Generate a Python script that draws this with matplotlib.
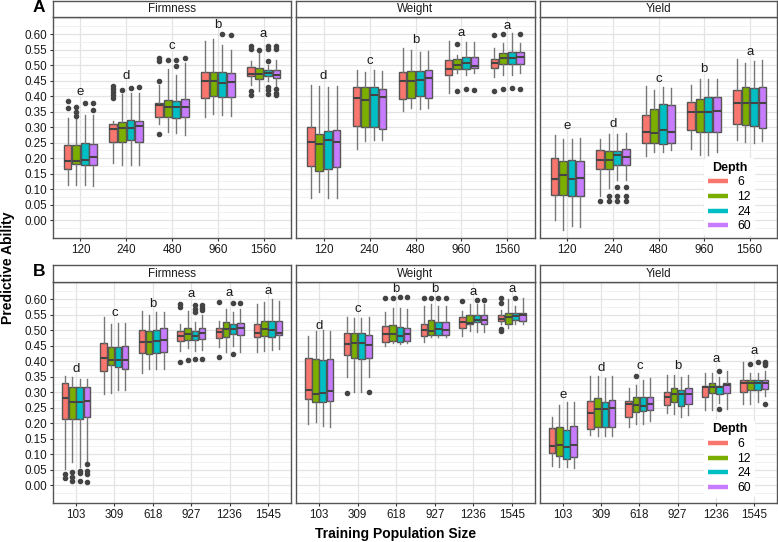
import matplotlib
matplotlib.use('Agg')
import matplotlib.pyplot as plt
from matplotlib.lines import Line2D
import numpy as np

plt.rcParams['font.family'] = ['Liberation Sans', 'DejaVu Sans']

# ---------------- data ----------------
depths = ['6', '12', '24', '60']
depth_colors = ['#F8766D', '#7CAE00', '#00BFC4', '#C77CFF']
traits = ['Firmness', 'Weight', 'Yield']
sizes_A = ['120', '240', '480', '960', '1560']
sizes_B = ['103', '309', '618', '927', '1236', '1545']

# box stats per size, per depth: (whisker low, q1, median, q3, whisker high)
A_firm_stats = [
    [(0.112, 0.164, 0.191, 0.243, 0.330), (0.112, 0.180, 0.191, 0.243, 0.325), (0.112, 0.178, 0.193, 0.250, 0.340), (0.110, 0.178, 0.202, 0.246, 0.340)],
    [(0.184, 0.253, 0.293, 0.309, 0.318), (0.179, 0.253, 0.298, 0.316, 0.406), (0.179, 0.257, 0.298, 0.322, 0.411), (0.176, 0.253, 0.302, 0.319, 0.411)],
    [(0.310, 0.331, 0.370, 0.377, 0.435), (0.285, 0.331, 0.366, 0.387, 0.487), (0.282, 0.328, 0.364, 0.384, 0.468), (0.275, 0.332, 0.366, 0.391, 0.505)],
    [(0.332, 0.395, 0.447, 0.476, 0.579), (0.343, 0.401, 0.450, 0.476, 0.583), (0.340, 0.398, 0.442, 0.476, 0.565), (0.334, 0.398, 0.444, 0.474, 0.550)],
    [(0.437, 0.466, 0.472, 0.495, 0.514), (0.415, 0.455, 0.472, 0.492, 0.539), (0.448, 0.466, 0.474, 0.484, 0.501), (0.431, 0.458, 0.468, 0.484, 0.517)],
]
A_firm_out = [
    [[0.361, 0.383], [0.334, 0.348, 0.364], [0.376], [0.354, 0.376]],
    [[0.393, 0.404, 0.413, 0.422, 0.432], [0.419], [0.426], [0.428]],
    [[0.279, 0.450, 0.512, 0.522], [0.516], [0.498, 0.516], [0.522]],
    [[], [], [0.599], [0.598]],
    [[0.402, 0.415, 0.552, 0.560], [0.549], [0.406, 0.418, 0.429, 0.514, 0.553, 0.563], [0.402, 0.410, 0.423, 0.553, 0.563]],
]
A_firm_letters = ['e', 'd', 'c', 'b', 'a']
A_firm_letter_y = [0.413, 0.465, 0.563, 0.628, 0.600]

A_wt_stats = [
    [(0.072, 0.174, 0.251, 0.300, 0.436), (0.089, 0.159, 0.246, 0.276, 0.433), (0.070, 0.165, 0.257, 0.287, 0.430), (0.070, 0.172, 0.252, 0.290, 0.433)],
    [(0.229, 0.302, 0.394, 0.428, 0.483), (0.254, 0.300, 0.388, 0.428, 0.477), (0.259, 0.299, 0.402, 0.428, 0.483), (0.259, 0.294, 0.396, 0.424, 0.482)],
    [(0.353, 0.389, 0.449, 0.479, 0.554), (0.361, 0.393, 0.449, 0.482, 0.548), (0.358, 0.399, 0.452, 0.480, 0.541), (0.361, 0.395, 0.457, 0.484, 0.546)],
    [(0.411, 0.468, 0.486, 0.515, 0.576), (0.474, 0.487, 0.501, 0.519, 0.533), (0.469, 0.487, 0.506, 0.525, 0.573), (0.474, 0.490, 0.498, 0.525, 0.573)],
    [(0.463, 0.492, 0.508, 0.519, 0.555), (0.469, 0.502, 0.522, 0.538, 0.571), (0.469, 0.503, 0.522, 0.542, 0.603), (0.474, 0.504, 0.525, 0.541, 0.571)],
]
A_wt_out = [
    [[], [], [], []],
    [[], [], [], []],
    [[], [], [], []],
    [[], [0.415, 0.569], [0.423], [0.420]],
    [[0.417, 0.598], [0.423, 0.601], [0.426], [0.423, 0.601]],
]
A_wt_letters = ['d', 'c', 'b', 'a', 'a']
A_wt_letter_y = [0.465, 0.512, 0.581, 0.602, 0.627]

A_yld_stats = [
    [(0.001, 0.082, 0.133, 0.200, 0.275), (-0.031, 0.082, 0.144, 0.191, 0.261), (-0.020, 0.076, 0.132, 0.193, 0.261), (-0.023, 0.079, 0.135, 0.191, 0.266)],
    [(0.078, 0.164, 0.193, 0.225, 0.262), (0.103, 0.164, 0.193, 0.223, 0.277), (0.130, 0.178, 0.210, 0.223, 0.277), (0.130, 0.178, 0.203, 0.229, 0.280)],
    [(0.207, 0.250, 0.285, 0.339, 0.433), (0.218, 0.250, 0.282, 0.358, 0.420), (0.221, 0.246, 0.291, 0.374, 0.428), (0.226, 0.250, 0.285, 0.371, 0.425)],
    [(0.230, 0.291, 0.350, 0.382, 0.436), (0.210, 0.285, 0.350, 0.390, 0.454), (0.210, 0.283, 0.350, 0.396, 0.454), (0.221, 0.285, 0.353, 0.396, 0.454)],
    [(0.259, 0.310, 0.379, 0.420, 0.518), (0.253, 0.305, 0.379, 0.428, 0.506), (0.250, 0.304, 0.377, 0.427, 0.513), (0.255, 0.298, 0.379, 0.428, 0.516)],
]
A_yld_out = [
    [[], [], [], []],
    [[0.060], [0.061, 0.076], [0.061, 0.076, 0.106], [0.061, 0.076, 0.106]],
    [[], [], [], []],
    [[], [], [], []],
    [[], [], [], []],
]
A_yld_letters = ['e', 'd', 'c', 'b', 'a']
A_yld_letter_y = [0.302, 0.309, 0.455, 0.487, 0.543]

B_firm_stats = [
    [(0.052, 0.213, 0.280, 0.328, 0.353), (0.073, 0.213, 0.269, 0.315, 0.347), (0.057, 0.213, 0.269, 0.317, 0.342), (0.078, 0.218, 0.272, 0.317, 0.342)],
    [(0.294, 0.369, 0.409, 0.457, 0.541), (0.297, 0.387, 0.403, 0.446, 0.519), (0.306, 0.382, 0.404, 0.444, 0.523), (0.306, 0.374, 0.404, 0.449, 0.522)],
    [(0.363, 0.425, 0.463, 0.500, 0.562), (0.374, 0.423, 0.460, 0.496, 0.549), (0.374, 0.426, 0.466, 0.501, 0.557), (0.374, 0.428, 0.469, 0.506, 0.557)],
    [(0.433, 0.466, 0.482, 0.497, 0.519), (0.442, 0.469, 0.486, 0.505, 0.562), (0.431, 0.468, 0.480, 0.497, 0.525), (0.435, 0.470, 0.489, 0.506, 0.550)],
    [(0.444, 0.474, 0.495, 0.508, 0.530), (0.428, 0.476, 0.503, 0.525, 0.568), (0.449, 0.487, 0.503, 0.519, 0.557), (0.428, 0.485, 0.505, 0.523, 0.568)],
    [(0.428, 0.478, 0.492, 0.521, 0.584), (0.433, 0.482, 0.503, 0.530, 0.589), (0.435, 0.478, 0.500, 0.528, 0.600), (0.439, 0.485, 0.492, 0.530, 0.595)],
]
B_firm_out = [
    [[0.022, 0.035], [0.014, 0.025, 0.043], [0.012, 0.038, 0.046], [0.009, 0.035, 0.046, 0.068]],
    [[], [], [], []],
    [[], [], [], []],
    [[0.396, 0.573, 0.584], [0.403], [0.405, 0.557, 0.568, 0.581], [0.405, 0.565, 0.571, 0.581]],
    [[0.412, 0.589], [], [0.423, 0.587], [0.586]],
    [[], [], [], []],
]
B_firm_letters = ['d', 'c', 'b', 'a', 'a', 'a']
B_firm_letter_y = [0.374, 0.554, 0.584, 0.616, 0.619, 0.625]

B_wt_stats = [
    [(0.197, 0.277, 0.308, 0.410, 0.482), (0.202, 0.267, 0.294, 0.406, 0.498), (0.191, 0.267, 0.296, 0.404, 0.500), (0.188, 0.270, 0.302, 0.406, 0.498)],
    [(0.347, 0.420, 0.455, 0.489, 0.541), (0.299, 0.410, 0.457, 0.489, 0.539), (0.299, 0.406, 0.457, 0.489, 0.539), (0.349, 0.410, 0.452, 0.485, 0.541)],
    [(0.448, 0.461, 0.486, 0.513, 0.558), (0.458, 0.464, 0.486, 0.515, 0.572), (0.455, 0.461, 0.481, 0.510, 0.572), (0.458, 0.464, 0.486, 0.507, 0.569)],
    [(0.461, 0.481, 0.499, 0.518, 0.577), (0.476, 0.483, 0.497, 0.531, 0.583), (0.476, 0.483, 0.504, 0.526, 0.577), (0.476, 0.484, 0.500, 0.527, 0.578)],
    [(0.481, 0.505, 0.526, 0.542, 0.561), (0.497, 0.518, 0.524, 0.548, 0.583), (0.495, 0.526, 0.532, 0.548, 0.583), (0.495, 0.521, 0.532, 0.548, 0.583)],
    [(0.518, 0.529, 0.536, 0.547, 0.566), (0.507, 0.521, 0.543, 0.554, 0.599), (0.518, 0.532, 0.545, 0.556, 0.577), (0.521, 0.529, 0.547, 0.556, 0.604)],
]
B_wt_out = [
    [[], [], [], []],
    [[0.296], [], [], [0.299]],
    [[0.604], [0.604], [0.607], [0.607]],
    [[0.604], [0.604], [0.604], [0.604]],
    [[0.594], [], [0.597], [0.597]],
    [[0.497, 0.502, 0.586, 0.604], [], [0.604], []],
]
B_wt_letters = ['d', 'c', 'b', 'b', 'a', 'a']
B_wt_letter_y = [0.514, 0.568, 0.631, 0.631, 0.624, 0.631]

B_yld_stats = [
    [(0.062, 0.103, 0.125, 0.184, 0.218), (0.057, 0.095, 0.129, 0.186, 0.258), (0.057, 0.084, 0.124, 0.178, 0.267), (0.055, 0.089, 0.129, 0.189, 0.269)],
    [(0.162, 0.181, 0.232, 0.272, 0.353), (0.157, 0.186, 0.245, 0.280, 0.353), (0.157, 0.186, 0.245, 0.267, 0.344), (0.157, 0.186, 0.248, 0.274, 0.351)],
    [(0.186, 0.218, 0.261, 0.272, 0.312), (0.197, 0.234, 0.259, 0.283, 0.323), (0.197, 0.240, 0.256, 0.283, 0.340), (0.205, 0.242, 0.263, 0.285, 0.344)],
    [(0.231, 0.259, 0.285, 0.299, 0.355), (0.229, 0.267, 0.294, 0.313, 0.355), (0.220, 0.256, 0.294, 0.306, 0.347), (0.226, 0.263, 0.294, 0.313, 0.355)],
    [(0.243, 0.283, 0.315, 0.320, 0.361), (0.243, 0.297, 0.315, 0.329, 0.363), (0.265, 0.294, 0.315, 0.318, 0.350), (0.245, 0.296, 0.323, 0.329, 0.369)],
    [(0.261, 0.301, 0.329, 0.339, 0.396), (0.261, 0.306, 0.329, 0.339, 0.363), (0.267, 0.306, 0.329, 0.339, 0.363), (0.288, 0.310, 0.328, 0.339, 0.369)],
]
B_yld_out = [
    [[], [], [], []],
    [[], [], [], []],
    [[], [0.351], [], []],
    [[], [], [], []],
    [[], [], [0.245, 0.369], []],
    [[], [0.392], [0.396], [0.261, 0.388, 0.393, 0.398]],
]
B_yld_letters = ['e', 'd', 'c', 'b', 'a', 'a']
B_yld_letter_y = [0.291, 0.377, 0.383, 0.383, 0.406, 0.431]

y_ticks = [0.00, 0.05, 0.10, 0.15, 0.20, 0.25, 0.30, 0.35, 0.40, 0.45, 0.50, 0.55, 0.60]

# ---------------- layout ----------------
W, H = 778, 542
fig = plt.figure(figsize=(W / 100, H / 100), dpi=100)


def rect(l, t, r, b):
    return [l / W, 1 - b / H, (r - l) / W, (b - t) / H]


cols = [(53, 291), (296, 535), (540, 777)]
rows = [(1, 17, 238), (265, 282, 503)]

BORDER = '#555555'
TICKFS = 8.4


def draw_panel(ax, sizes, stats, outl, letters, letter_y, show_y):
    n = len(sizes)
    ax.set_xlim(0.4, n + 0.6)
    ax.set_ylim(-0.058, 0.655)
    ax.set_facecolor('white')
    ax.set_axisbelow(True)
    ax.set_yticks(y_ticks)
    minor = [v for v in np.arange(-0.025, 0.64, 0.05)]
    ax.set_yticks(minor, minor=True)
    ax.grid(which='major', axis='both', color='#E3E3E3', linewidth=0.9)
    ax.grid(which='minor', axis='y', color='#EFEFEF', linewidth=0.6)
    ax.tick_params(axis='y', which='minor', length=0)
    ax.set_xticks(np.arange(1, n + 1))
    ax.set_xticklabels(sizes)
    if show_y:
        ax.set_yticklabels(['%.2f' % v for v in y_ticks])
        ax.tick_params(axis='y', which='major', length=2.5, width=0.8, color='#333333',
                       labelsize=TICKFS, pad=1.5, labelcolor='#1a1a1a')
    else:
        ax.tick_params(axis='y', which='major', length=0, labelleft=False)
    ax.tick_params(axis='x', length=2.5, width=0.8, color='#333333', labelsize=TICKFS,
                   pad=2, labelcolor='#1a1a1a')
    for s in ax.spines.values():
        s.set_color(BORDER)
        s.set_linewidth(1.0)
    for i in range(n):
        for j in range(4):
            lo, q1, med, q3, hi = stats[i][j]
            d = dict(whislo=lo, q1=q1, med=med, q3=q3, whishi=hi, fliers=outl[i][j])
            pos = i + 1 + (j - 1.5) * 0.1875
            ax.bxp([d], positions=[pos], widths=0.169, patch_artist=True, showcaps=False,
                   manage_ticks=False,
                   boxprops=dict(facecolor=depth_colors[j], edgecolor=BORDER, linewidth=1.0),
                   medianprops=dict(color='#444444', linewidth=1.5),
                   whiskerprops=dict(color='#777777', linewidth=1.0),
                   flierprops=dict(marker='o', markerfacecolor='#444444',
                                   markeredgecolor='#444444', markersize=3.0))
        ax.text(i + 1, letter_y[i], letters[i], ha='center', va='center',
                fontsize=9.5, color='#1a1a1a')


def strip(l, t, r, b, label):
    sax = fig.add_axes(rect(l, t, r, b))
    sax.set_facecolor('white')
    sax.set_xticks([])
    sax.set_yticks([])
    for s in sax.spines.values():
        s.set_color(BORDER)
        s.set_linewidth(1.0)
    sax.text(0.5, 0.48, label, ha='center', va='center', fontsize=TICKFS, color='#1a1a1a',
             transform=sax.transAxes)


panels = [
    [(A_firm_stats, A_firm_out, A_firm_letters, A_firm_letter_y),
     (A_wt_stats, A_wt_out, A_wt_letters, A_wt_letter_y),
     (A_yld_stats, A_yld_out, A_yld_letters, A_yld_letter_y)],
    [(B_firm_stats, B_firm_out, B_firm_letters, B_firm_letter_y),
     (B_wt_stats, B_wt_out, B_wt_letters, B_wt_letter_y),
     (B_yld_stats, B_yld_out, B_yld_letters, B_yld_letter_y)],
]
row_sizes = [sizes_A, sizes_B]

handles = [Line2D([0], [0], color=c, lw=3.2, solid_capstyle='butt') for c in depth_colors]

for r, (st, pt, pb) in enumerate(rows):
    for c, (l, rr) in enumerate(cols):
        ax = fig.add_axes(rect(l, pt, rr, pb))
        stats, outl, letters, ly = panels[r][c]
        draw_panel(ax, row_sizes[r], stats, outl, letters, ly, c == 0)
        strip(l, st, rr, pt, traits[c])
        if c == 2:
            leg = ax.legend(handles, depths, title='Depth', loc='center',
                            bbox_to_anchor=(0.80, 0.185 if r == 0 else 0.2),
                            frameon=True, facecolor='white', edgecolor='none',
                            framealpha=1.0, fontsize=8.8, handlelength=1.6,
                            handletextpad=0.8, labelspacing=0.22, borderpad=0.3,
                            title_fontproperties={'weight': 'bold', 'size': 9})
            leg.get_frame().set_linewidth(0)

fig.text(39 / W, 1 - 8 / H, 'A', fontsize=12.5, fontweight='bold', ha='center', va='center')
fig.text(39 / W, 1 - 272 / H, 'B', fontsize=12.5, fontweight='bold', ha='center', va='center')
fig.text(8 / W, 1 - 268 / H, 'Predictive Ability', fontsize=10, fontweight='bold',
         rotation=90, ha='center', va='center')
fig.text(396 / W, 1 - 534 / H, 'Training Population Size', fontsize=10, fontweight='bold',
         ha='center', va='center')

fig.savefig('out.png', dpi=100, facecolor='white')
